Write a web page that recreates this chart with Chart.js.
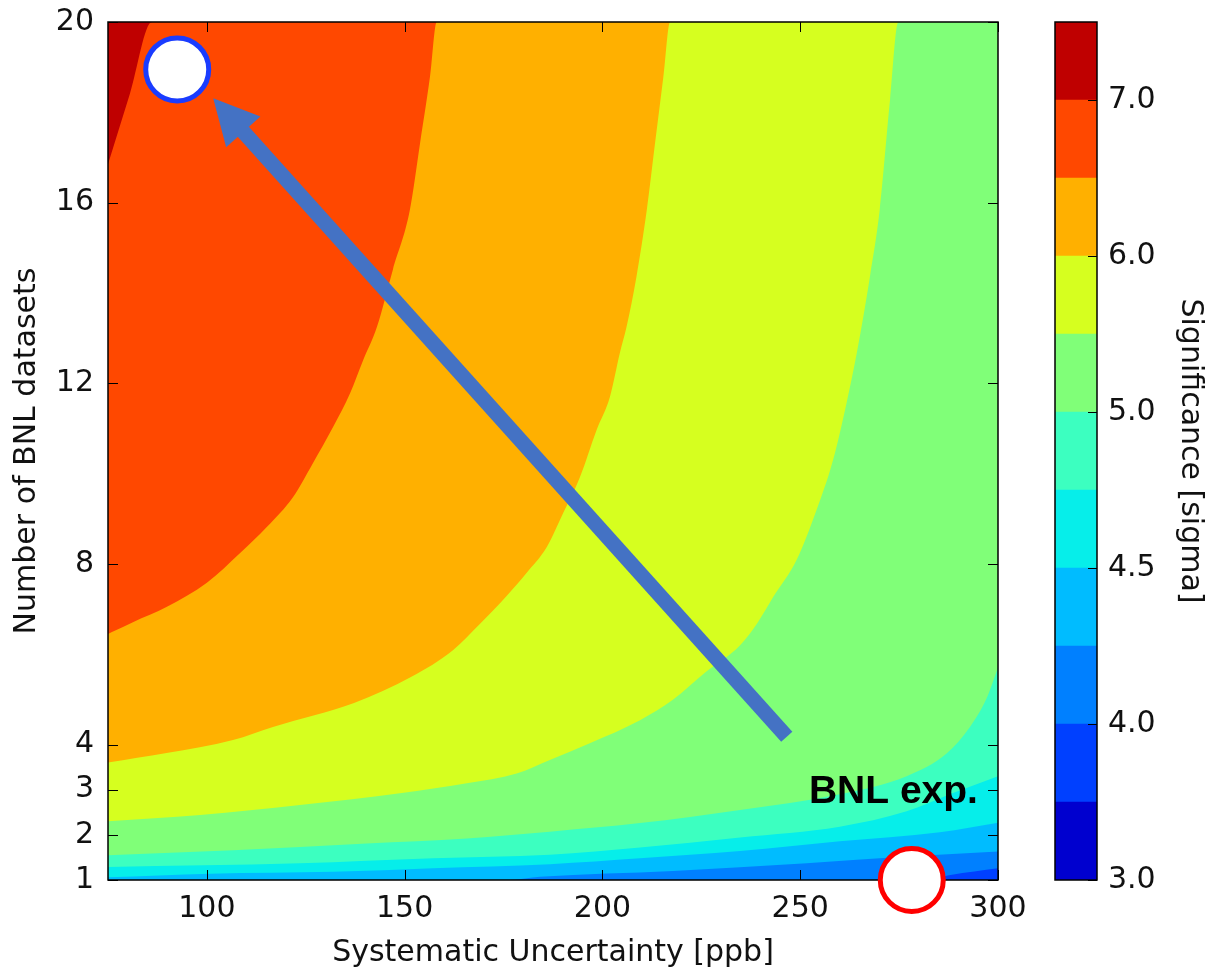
<!DOCTYPE html>
<html>
<head>
<meta charset="utf-8">
<script src="https://cdn.jsdelivr.net/npm/chart.js@4.4.1/dist/chart.umd.min.js"></script>
<style>
  html, body { margin: 0; padding: 0; background: #fff; }
  #wrap { position: relative; width: 1208px; height: 973px; }
  #main { position: absolute; left: 0; top: 0; }
  #cbar { position: absolute; left: 1040px; top: 0; }
</style>
</head>
<body>
<div id="wrap">
  <canvas id="main" width="1040" height="973"></canvas>
  <canvas id="cbar" width="168" height="973"></canvas>
</div>
<script>
// axis ticks
const xTicks = [100, 150, 200, 250, 300];
const yTicks = [1, 2, 3, 4, 8, 12, 16, 20];

// contour levels (sigma) and the colorbar labels
const levels = [3.0, 3.5, 4.0, 4.25, 4.5, 4.75, 5.0, 5.5, 6.0, 6.5, 7.0, 7.5];
const cbTicks = [3.0, 4.0, 4.5, 5.0, 6.0, 7.0];

// contour boundaries: [systematic ppb, datasets]
// the region above each curve has significance >= that level
const edge35 = [[75, 1], [300, 1]];
const edge40 = [[75, 1], [282, 1], [288, 1.11], [300, 1.26]];
const edge425 = [[75, 1], [176.6, 1], [184.2, 1.07], [217.8, 1.2], [251.6, 1.37], [276.9, 1.52], [300, 1.63]];
const edge45 = [[75, 1.06], [100.8, 1.14], [131.9, 1.18], [157.2, 1.26], [186.7, 1.35], [209.5, 1.48],
                [234.8, 1.64], [260, 1.86], [285.3, 2.06], [300, 2.27]];
const edge475 = [[75, 1.29], [123.5, 1.37], [157.2, 1.48], [186.7, 1.56], [209.5, 1.72], [234.8, 1.94],
                 [260, 2.18], [276.9, 2.52], [287.8, 2.90], [300, 3.30]];
const edge50 = [[75, 1.55], [106.6, 1.66], [140.4, 1.81], [165.7, 1.92], [186.7, 2.07], [209.5, 2.26],
                [234.8, 2.55], [260, 2.90], [276.9, 3.30], [287, 3.80], [293, 4.40], [297, 5.00], [300, 5.70]];
const edge55 = [[75, 2.30], [98.3, 2.44], [123.5, 2.66], [148.8, 2.92], [165.7, 3.14], [178.3, 3.36],
                [186.7, 3.66], [196.8, 4.03], [209.5, 4.54], [217.8, 4.99], [226.2, 5.61], [234.8, 6.20],
                [239.3, 6.71], [243.2, 7.27], [249.1, 8.09], [254.1, 9.19], [258.3, 10.30], [261.7, 11.56],
                [264.3, 12.67], [267.6, 14.35], [270.1, 15.84], [272.7, 18.27], [274.8, 20], [300, 20]];
const edge60 = [[75, 3.60], [89.8, 3.81], [106.6, 4.10], [116.7, 4.39], [137.2, 4.92], [151.7, 5.50],
                [162.2, 6.09], [169.0, 6.67], [174.1, 7.13], [180.8, 7.80], [185.9, 8.37], [190.1, 9.13],
                [194.3, 9.92], [198.5, 10.96], [201.9, 11.70], [204.4, 12.67], [206.1, 13.25], [208.6, 14.36],
                [211.2, 15.83], [213.3, 17.32], [215.4, 18.79], [217.1, 20], [300, 20]];
const edge65 = [[75, 6.45], [76, 6.49], [81.3, 6.71], [89.9, 7.05], [100, 7.58], [108.4, 8.24], [115.2, 8.82],
                [121.8, 9.48], [126.8, 10.23], [131.9, 11.03], [136.2, 11.78], [139.5, 12.51], [143, 13.25],
                [147, 14.51], [151.3, 15.83], [153.9, 17.32], [156.4, 18.79], [158.1, 20], [300, 20]];
const edge70 = [[75, 16.85], [80.5, 18.4], [86.1, 20], [300, 20]];

// annotations
const arrowPath = [[246.6, 4.17], [101.6, 18.31]];
const bnlFuture = [[92.5, 18.95]];
const bnlNow = [[278.2, 1.0]];
const noteText = 'BNL exp.';
const noteAt = [252.2, 2.70];

// styles
const FONT = 'DejaVu Sans';
const INK = '#111';
const bandColors = ['#0000cf', '#0040ff', '#0080ff', '#00bcff', '#06eeea', '#3cffc0',
                    '#80ff78', '#d6ff1f', '#ffb000', '#ff4800', '#bf0000'];
const edges = [edge35, edge40, edge425, edge45, edge475, edge50, edge55, edge60, edge65, edge70];

Chart.defaults.font.family = FONT;
Chart.defaults.font.size = 30;
Chart.defaults.color = INK;

const toXY = arr => arr.map(([x, y]) => ({ x, y }));

const contourSets = edges.map((e, i) => ({
  label: 'sigma >= ' + levels[i + 1],
  data: toXY(e),
  fill: 'end',
  backgroundColor: bandColors[i + 1],
  borderColor: 'rgba(0,0,0,0)',
  borderWidth: 0,
  pointRadius: 0,
  cubicInterpolationMode: 'monotone',
  order: 100 - i
}));

const line = (ctx, x1, y1, x2, y2) => {
  ctx.beginPath(); ctx.moveTo(x1, y1); ctx.lineTo(x2, y2); ctx.stroke();
};

// no label overhang padding: the layout padding decides where the plot sits
const noOverhang = s => {
  s.paddingTop = 0; s.paddingBottom = 0; s.paddingLeft = 0; s.paddingRight = 0;
};

const mainDecor = {
  id: 'mainDecor',
  afterDatasetDraw(chart, args) {
    const ctx = chart.ctx;
    const a = chart.chartArea;
    const { x, y } = chart.scales;
    if (args.index === edges.length - 1) {
      // frame + inward ticks on all four sides
      ctx.save();
      ctx.strokeStyle = '#000';
      ctx.lineWidth = 1;
      xTicks.forEach(v => {
        const px = Math.round(x.getPixelForValue(v)) + 0.5;
        line(ctx, px, a.bottom, px, a.bottom - 10);
        line(ctx, px, a.top, px, a.top + 10);
      });
      yTicks.forEach(v => {
        const py = Math.round(y.getPixelForValue(v)) + 0.5;
        line(ctx, a.left, py, a.left + 10, py);
        line(ctx, a.right, py, a.right - 10, py);
      });
      ctx.lineWidth = 1.5;
      ctx.strokeRect(a.left, a.top, a.right - a.left, a.bottom - a.top);
      ctx.restore();
    }
    if (args.meta.label === 'arrow') {
      const p0 = args.meta.data[0], p1 = args.meta.data[1];
      const dx = p1.x - p0.x, dy = p1.y - p0.y, len = Math.hypot(dx, dy);
      const ux = dx / len, uy = dy / len;
      const headLen = 45, headHalf = 23;
      const bx = p1.x - ux * headLen, by = p1.y - uy * headLen;
      ctx.save();
      ctx.strokeStyle = '#4472c4';
      ctx.fillStyle = '#4472c4';
      ctx.lineWidth = 15;
      ctx.lineCap = 'butt';
      line(ctx, p0.x, p0.y, bx + ux * 3, by + uy * 3);
      ctx.beginPath();
      ctx.moveTo(p1.x, p1.y);
      ctx.lineTo(bx - uy * headHalf, by + ux * headHalf);
      ctx.lineTo(bx + uy * headHalf, by - ux * headHalf);
      ctx.closePath();
      ctx.fill();
      ctx.restore();
    }
  },
  afterDatasetsDraw(chart) {
    const ctx = chart.ctx;
    const { x, y } = chart.scales;
    ctx.save();
    ctx.font = 'bold 39px "Liberation Sans", Arial, sans-serif';
    ctx.fillStyle = '#000';
    ctx.textAlign = 'left';
    ctx.textBaseline = 'alphabetic';
    ctx.fillText(noteText, x.getPixelForValue(noteAt[0]), y.getPixelForValue(noteAt[1]));
    ctx.restore();
  }
};

new Chart(document.getElementById('main'), {
  type: 'line',
  data: {
    datasets: [
      ...contourSets,
      {
        label: 'arrow',
        data: toXY(arrowPath),
        showLine: false,
        pointRadius: 0,
        fill: false,
        order: 2
      },
      {
        label: 'future',
        data: toXY(bnlFuture),
        showLine: false,
        pointRadius: 31.5,
        borderWidth: 5,
        borderColor: '#1a3cff',
        backgroundColor: '#ffffff',
        fill: false,
        order: 1
      },
      {
        label: 'now',
        data: toXY(bnlNow),
        showLine: false,
        pointRadius: 31.5,
        borderWidth: 5,
        borderColor: '#ff0000',
        backgroundColor: '#ffffff',
        fill: false,
        clip: false,
        order: 0
      }
    ]
  },
  options: {
    responsive: false,
    animation: false,
    events: [],
    layout: { autoPadding: false, padding: { top: 22, right: 42, bottom: 0, left: 0 } },
    plugins: { legend: { display: false }, tooltip: { enabled: false } },
    scales: {
      x: {
        type: 'linear',
        min: 75,
        max: 300,
        afterBuildTicks: s => { s.ticks = xTicks.map(v => ({ value: v })); },
        afterFit: s => { s.height = 93; noOverhang(s); },
        grid: { display: false, drawTicks: false },
        border: { display: false },
        ticks: { padding: 11, maxRotation: 0, autoSkip: false },
        title: { display: true, text: 'Systematic Uncertainty [ppb]', padding: { top: 0, bottom: 2 } }
      },
      y: {
        type: 'linear',
        min: 1,
        max: 20,
        afterBuildTicks: s => { s.ticks = yTicks.map(v => ({ value: v })); },
        afterFit: s => { s.width = 108; noOverhang(s); },
        grid: { display: false, drawTicks: false },
        border: { display: false },
        ticks: { padding: 14, autoSkip: false },
        title: { display: true, text: 'Number of BNL datasets', padding: { top: 9, bottom: 0 } }
      }
    }
  },
  plugins: [mainDecor]
});

// colour bar
const cbarDecor = {
  id: 'cbarDecor',
  afterDatasetsDraw(chart) {
    const ctx = chart.ctx;
    const a = chart.chartArea;
    const y = chart.scales.y;
    ctx.save();
    ctx.strokeStyle = '#000';
    ctx.lineWidth = 1;
    cbTicks.forEach(t => {
      const py = Math.round(y.getPixelForValue(levels.indexOf(t))) + 0.5;
      line(ctx, a.right, py, a.right - 9, py);
    });
    ctx.lineWidth = 1.5;
    ctx.strokeRect(a.left, a.top, a.right - a.left, a.bottom - a.top);
    ctx.restore();
  }
};

new Chart(document.getElementById('cbar'), {
  type: 'bar',
  data: {
    labels: [''],
    datasets: bandColors.map((c, i) => ({
      label: levels[i] + '-' + levels[i + 1],
      data: [[i, i + 1]],
      backgroundColor: c,
      borderWidth: 0,
      barPercentage: 1,
      categoryPercentage: 1,
      grouped: false
    }))
  },
  options: {
    responsive: false,
    animation: false,
    events: [],
    layout: { padding: { top: 22, right: 0, bottom: 93, left: 15 } },
    plugins: { legend: { display: false }, tooltip: { enabled: false } },
    scales: {
      x: { display: false },
      y: {
        position: 'right',
        min: 0,
        max: levels.length - 1,
        afterBuildTicks: s => { s.ticks = cbTicks.map(t => ({ value: levels.indexOf(t) })); },
        afterFit: s => { s.width = 111; noOverhang(s); },
        grid: { display: false, drawTicks: false },
        border: { display: false },
        ticks: { padding: 11, autoSkip: false, callback: v => levels[v].toFixed(1) },
        title: { display: true, text: 'Significance [sigma]', padding: { top: 0, bottom: 0 } }
      }
    }
  },
  plugins: [cbarDecor]
});
</script>
</body>
</html>
